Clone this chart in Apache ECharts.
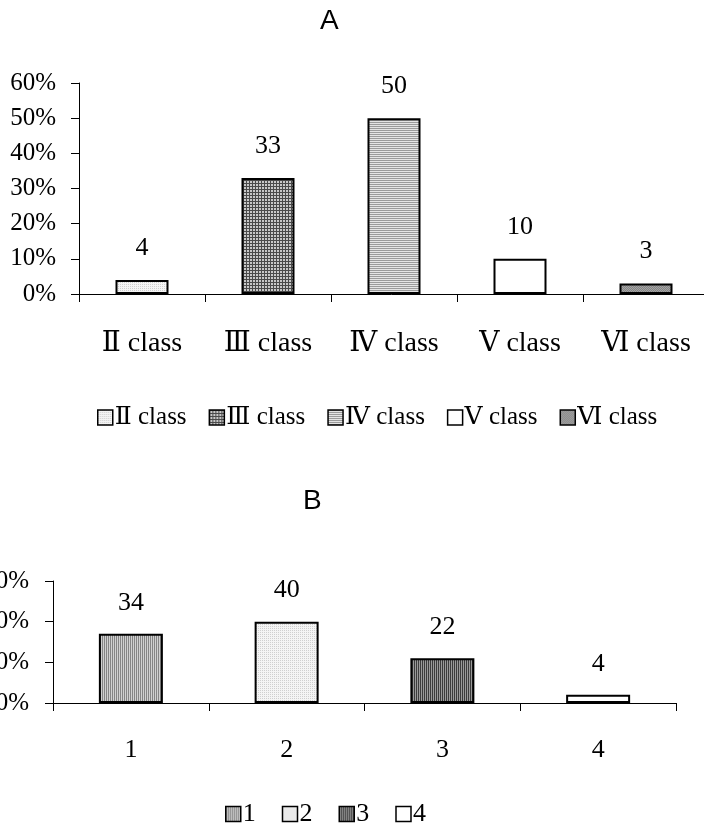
<!DOCTYPE html>
<html>
<head>
<meta charset="utf-8">
<script src="https://cdn.jsdelivr.net/npm/echarts@6/dist/echarts.min.js"></script>
<style>
  html, body { margin: 0; padding: 0; background: #fff; }
  #chart { width: 704px; height: 828px; }
</style>
</head>
<body>
<div id="chart"></div>
<script>
// Panel A: share of pupils by class
const classNames = ['Ⅱ class', 'Ⅲ class', 'Ⅳ class', 'Ⅴ class', 'Ⅵ class'];
const classValues = [4, 33, 50, 10, 3];
// Panel B: share by group
const groupNames = ['1', '2', '3', '4'];
const groupValues = [34, 40, 22, 4];
const yTicksA = [0, 10, 20, 30, 40, 50, 60];
const yTicksB = [0, 20, 40, 60];

const SERIF = "'Liberation Serif', 'Times New Roman', 'DejaVu Serif', serif";
const SANS = "'Liberation Sans', Arial, sans-serif";

// Small repeating fills in the style of old office hatch patterns
function pattern(w, h, paint) {
  const c = document.createElement('canvas');
  c.width = w; c.height = h;
  const ctx = c.getContext('2d');
  paint(ctx);
  return { image: c, repeat: 'repeat' };
}
function px(ctx, color, x, y, w, h) { ctx.fillStyle = color; ctx.fillRect(x, y, w || 1, h || 1); }

const lightDots = pattern(2, 2, ctx => {
  px(ctx, '#f4f4f4', 0, 0, 2, 2);
  px(ctx, '#cfcfcf', 0, 0);
});
const darkGrid = pattern(3, 3, ctx => {
  px(ctx, '#c8c8c8', 0, 0, 3, 3);
  px(ctx, '#4a4a4a', 0, 0, 3, 1);
  px(ctx, '#4a4a4a', 0, 0, 1, 3);
});
const hLines = pattern(2, 2, ctx => {
  px(ctx, '#e4e4e4', 0, 0, 2, 2);
  px(ctx, '#9a9a9a', 0, 0, 2, 1);
});
const plainWhite = '#ffffff';
const darkDots = pattern(2, 2, ctx => {
  px(ctx, '#858585', 0, 0, 2, 2);
  px(ctx, '#a5a5a5', 0, 0); px(ctx, '#a5a5a5', 1, 1);
});
const vLinesMid = pattern(2, 2, ctx => {
  px(ctx, '#d0d0d0', 0, 0, 2, 2);
  px(ctx, '#848484', 0, 0, 1, 2);
});
const vLinesDark = pattern(2, 2, ctx => {
  px(ctx, '#9a9a9a', 0, 0, 2, 2);
  px(ctx, '#3c3c3c', 0, 0, 1, 2);
});

const fillsA = [lightDots, darkGrid, hLines, plainWhite, darkDots];
const fillsB = [vLinesMid, lightDots, vLinesDark, plainWhite];

// One series per category so each appears in the legend; stacked so bars stay centred
function seriesFor(names, values, fills, axisIdx, barWidth, labelDist) {
  return names.map((name, i) => ({
    name: name,
    type: 'bar',
    stack: 'panel' + axisIdx,
    xAxisIndex: axisIdx,
    yAxisIndex: axisIdx,
    barWidth: barWidth,
    data: values.map((v, j) => (j === i ? v : '-')),
    itemStyle: { color: fills[i], borderColor: '#000', borderWidth: 2 },
    label: {
      show: true, position: 'top', distance: labelDist,
      fontFamily: SERIF, fontSize: 26, color: '#000',
      formatter: p => String(p.value)
    },
    emphasis: { disabled: true },
    animation: false
  }));
}

const axisLineStyle = { color: '#000', width: 1 };

const option = {
  backgroundColor: '#fff',
  animation: false,
  title: [
    { text: 'A', left: 320, top: 7, padding: 0,
      textStyle: { fontFamily: SANS, fontSize: 28, fontWeight: 'normal', color: '#000' } },
    { text: 'B', left: 303, top: 487, padding: 0,
      textStyle: { fontFamily: SANS, fontSize: 28, fontWeight: 'normal', color: '#000' } }
  ],
  legend: [
    { data: classNames, left: 97, top: 405, padding: 0, itemGap: 22,
      itemWidth: 15, itemHeight: 15, icon: 'rect',
      itemStyle: { borderColor: '#000', borderWidth: 1.5 },
      textStyle: { fontFamily: SERIF, fontSize: 25, color: '#000', padding: [0, 0, 0, -3] } },
    { data: groupNames, left: 225, top: 801, padding: 0, itemGap: 26,
      itemWidth: 15, itemHeight: 15, icon: 'rect',
      itemStyle: { borderColor: '#000', borderWidth: 1.5 },
      textStyle: { fontFamily: SERIF, fontSize: 26, color: '#000', padding: [0, 0, 0, -3] } }
  ],
  grid: [
    { left: 79, right: -5, top: 83, height: 211, outerBoundsMode: 'none', containLabel: false },
    { left: 53, right: 28, top: 581, height: 122, outerBoundsMode: 'none', containLabel: false }
  ],
  xAxis: [
    { type: 'category', gridIndex: 0, data: classNames,
      axisLine: { lineStyle: axisLineStyle },
      axisTick: { show: true, length: 8, lineStyle: axisLineStyle },
      axisLabel: { fontFamily: SERIF, fontSize: 28, color: '#000', margin: 36 } },
    { type: 'category', gridIndex: 1, data: groupNames,
      axisLine: { lineStyle: axisLineStyle },
      axisTick: { show: true, length: 8, lineStyle: axisLineStyle },
      axisLabel: { fontFamily: SERIF, fontSize: 26, color: '#000', margin: 34 } }
  ],
  yAxis: [
    { type: 'value', gridIndex: 0, min: yTicksA[0], max: yTicksA[yTicksA.length - 1],
      interval: yTicksA[1] - yTicksA[0],
      axisLine: { show: true, lineStyle: axisLineStyle },
      axisTick: { show: true, length: 8, lineStyle: axisLineStyle },
      splitLine: { show: false },
      axisLabel: { fontFamily: SERIF, fontSize: 25, color: '#000', margin: 23, formatter: '{value}%' } },
    { type: 'value', gridIndex: 1, min: yTicksB[0], max: yTicksB[yTicksB.length - 1],
      interval: yTicksB[1] - yTicksB[0],
      axisLine: { show: true, lineStyle: axisLineStyle },
      axisTick: { show: true, length: 8, lineStyle: axisLineStyle },
      splitLine: { show: false },
      axisLabel: { fontFamily: SERIF, fontSize: 25, color: '#000', margin: 24, formatter: '{value}%' } }
  ],
  series: [
    ...seriesFor(classNames, classValues, fillsA, 0, 53, 19),
    ...seriesFor(groupNames, groupValues, fillsB, 1, 64, 18)
  ]
};

const chart = echarts.init(document.getElementById('chart'), null, { renderer: 'canvas' });
chart.setOption(option);
</script>
</body>
</html>
